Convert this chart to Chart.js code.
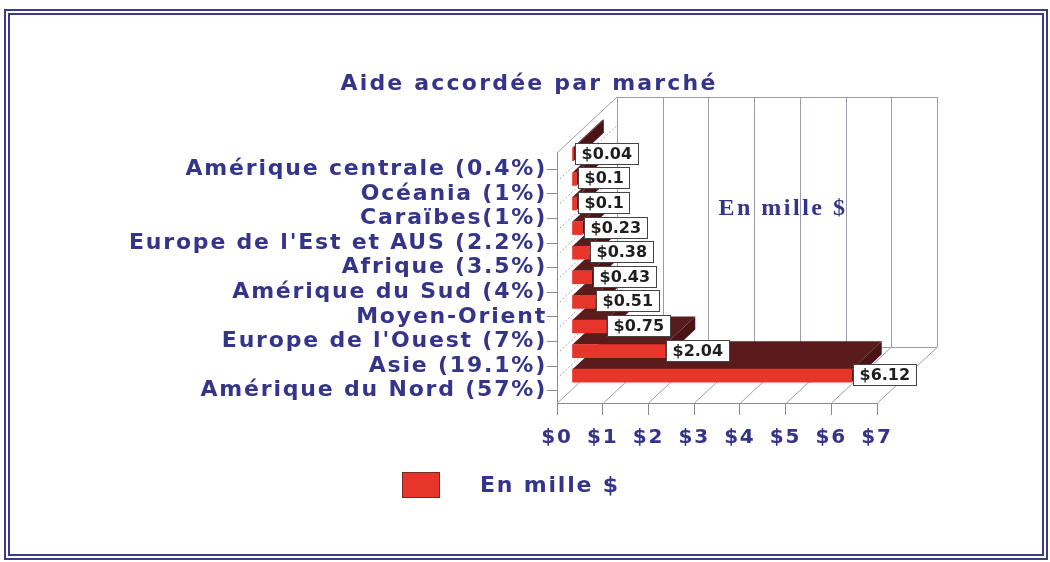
<!DOCTYPE html>
<html><head><meta charset="utf-8">
<script src="https://cdn.jsdelivr.net/npm/chart.js@4.4.0/dist/chart.umd.min.js"></script>
<style>
html,body{margin:0;padding:0;background:#fff;}
#wrap{position:relative;width:1050px;height:562px;overflow:hidden;}
#frame{position:absolute;left:4px;top:9px;width:1032px;height:539px;border:6px double #3c3c86;pointer-events:none;}
canvas{position:absolute;left:0;top:0;}
</style></head><body>
<div id="wrap"><canvas id="c" width="1050" height="562"></canvas><div id="frame"></div></div>
<script>
// ---- data ----
const categories = ['Amérique centrale (0.4%)', 'Océania (1%)', 'Caraïbes(1%)', "Europe de l'Est et AUS (2.2%)", 'Afrique (3.5%)', 'Amérique du Sud (4%)', 'Moyen-Orient', "Europe de l'Ouest (7%)", 'Asie (19.1%)', 'Amérique du Nord (57%)'];
const values = [0.04, 0.1, 0.1, 0.23, 0.38, 0.43, 0.51, 0.75, 2.04, 6.12];
const seriesName = 'En mille $';
const chartTitle = 'Aide accordée par marché';
const wallNote = 'En mille $';
const xMin = 0, xMax = 7, xStep = 1;

// ---- style ----
const BLUE = '#34348a';
const RED = '#e8352b';
const TOP = '#5a1b1d';
const SIDE = '#4a1416';
const DX = 60, DY = -56;   // box depth
const SX = 15, SY = -15;   // bar front offset
const BX = 30, BY = -28;   // bar depth
const EXTRA_TOP = 4;       // wall rises a little above first band

const plugin3d = {
  id: 'bar3d',
  beforeDraw(chart) { chart.ctx.letterSpacing = '1.8px'; },
  beforeDatasetsDraw(chart) {
    const { ctx, chartArea: a, scales: { x, y } } = chart;
    const top = a.top - EXTRA_TOP;
    ctx.save();
    ctx.letterSpacing = '0px';
    ctx.strokeStyle = '#9c9caa';
    ctx.lineWidth = 1;
    const r = x.getPixelForValue(xMax);
    ctx.beginPath();
    x.ticks.forEach(t => {
      const px = Math.round(x.getPixelForValue(t.value)) + 0.5;
      ctx.moveTo(px + DX, top + DY); ctx.lineTo(px + DX, a.bottom + DY);
      ctx.moveTo(px, a.bottom); ctx.lineTo(px + DX, a.bottom + DY);
    });
    ctx.moveTo(a.left + DX, Math.round(top + DY) + 0.5); ctx.lineTo(r + DX, Math.round(top + DY) + 0.5);
    ctx.moveTo(a.left + DX, Math.round(a.bottom + DY) + 0.5); ctx.lineTo(r + DX, Math.round(a.bottom + DY) + 0.5);
    ctx.moveTo(a.left, top); ctx.lineTo(a.left + DX, top + DY);
    ctx.stroke();
    // front-left edge above first band
    ctx.strokeStyle = '#8a8a96';
    ctx.beginPath();
    ctx.moveTo(Math.round(a.left) + 0.5, top); ctx.lineTo(Math.round(a.left) + 0.5, a.top + 1);
    ctx.stroke();
    ctx.setLineDash([1, 3]);
    ctx.strokeStyle = '#55557a';
    ctx.beginPath();
    for (let i = 1; i < categories.length; i++) {
      const yb = (y.getPixelForValue(i - 1) + y.getPixelForValue(i)) / 2;
      ctx.moveTo(a.left, yb); ctx.lineTo(a.left + DX, yb + DY);
    }
    ctx.stroke();
    ctx.setLineDash([]);
    // note on the back wall
    ctx.letterSpacing = '2.5px';
    ctx.font = 'bold 24px "Liberation Serif"';
    ctx.fillStyle = BLUE;
    ctx.textAlign = 'center';
    ctx.textBaseline = 'middle';
    ctx.fillText(wallNote, 783, 209);
    ctx.restore();
  },
  beforeDatasetDraw(chart, args) {
    const ctx = chart.ctx;
    const meta = args.meta;
    ctx.save();
    ctx.translate(SX, SY);
    for (let i = meta.data.length - 1; i >= 0; i--) {
      const el = meta.data[i];
      const p = el.getProps(['x', 'y', 'base', 'height'], true);
      const t = p.y - p.height / 2, b = p.y + p.height / 2;
      ctx.fillStyle = TOP;
      ctx.beginPath();
      ctx.moveTo(p.base, t); ctx.lineTo(p.x, t); ctx.lineTo(p.x + BX, t + BY); ctx.lineTo(p.base + BX, t + BY);
      ctx.closePath(); ctx.fill();
      ctx.fillStyle = SIDE;
      ctx.beginPath();
      ctx.moveTo(p.x, t); ctx.lineTo(p.x + BX, t + BY); ctx.lineTo(p.x + BX, b + BY); ctx.lineTo(p.x, b);
      ctx.closePath(); ctx.fill();
    }
    return true;
  },
  afterDatasetDraw(chart) { chart.ctx.restore(); },
  afterDatasetsDraw(chart) {
    const ctx = chart.ctx;
    const meta = chart.getDatasetMeta(0);
    ctx.save();
    ctx.letterSpacing = '0px';
    ctx.font = 'bold 16px "DejaVu Sans"';
    ctx.textBaseline = 'middle';
    ctx.textAlign = 'left';
    meta.data.forEach((el, i) => {
      const txt = '$' + values[i];
      const w = Math.round(ctx.measureText(txt).width + 12);
      const h = 21;
      const lx = Math.round(el.x + SX + 1);
      const ty = Math.round(el.y + SY - 1 - h / 2);
      ctx.fillStyle = '#fff';
      ctx.fillRect(lx, ty, w, h);
      ctx.strokeStyle = '#444';
      ctx.lineWidth = 1;
      ctx.strokeRect(lx + 0.5, ty + 0.5, w, h);
      ctx.fillStyle = '#1e1e1e';
      ctx.fillText(txt, lx + 6.5, ty + h / 2 + 1);
    });
    ctx.restore();
  },
  afterDraw(chart) {
    const ctx = chart.ctx;
    ctx.save();
    // title
    ctx.letterSpacing = '2.2px';
    ctx.font = 'bold 22px "DejaVu Sans"';
    ctx.fillStyle = BLUE;
    ctx.textAlign = 'center';
    ctx.textBaseline = 'middle';
    ctx.fillText(chartTitle, 529, 84);
    // legend
    const ds = chart.data.datasets[0];
    ctx.fillStyle = ds.backgroundColor;
    ctx.fillRect(402, 472, 37, 25);
    ctx.strokeStyle = '#7a2a22';
    ctx.lineWidth = 1;
    ctx.strokeRect(402.5, 472.5, 37, 25);
    ctx.letterSpacing = '1.8px';
    ctx.font = 'bold 22px "DejaVu Sans"';
    ctx.fillStyle = BLUE;
    ctx.textAlign = 'left';
    ctx.fillText(ds.label, 480, 486);
    ctx.restore();
  }
};

new Chart(document.getElementById('c'), {
  type: 'bar',
  data: {
    labels: categories,
    datasets: [{
      label: seriesName,
      data: values,
      backgroundColor: RED,
      borderWidth: 0,
      barThickness: 13,
      clip: false
    }]
  },
  options: {
    indexAxis: 'y',
    responsive: false,
    devicePixelRatio: 1,
    animation: false,
    layout: { padding: { left: 0, top: 157, right: 173, bottom: 99 } },
    plugins: { legend: { display: false }, title: { display: false }, tooltip: { enabled: false } },
    scales: {
      x: {
        min: xMin, max: xMax,
        afterFit(s) { s.height = 60; },
        ticks: { stepSize: xStep, callback: v => '$' + v, color: BLUE, padding: 11, maxRotation: 0, autoSkip: false,
          font: { family: 'DejaVu Sans', size: 20, weight: 'bold' } },
        grid: { drawOnChartArea: false, drawTicks: true, tickLength: 12, color: '#8a8a96' },
        border: { display: true, color: '#8a8a96' }
      },
      y: {
        afterFit(s) { s.width = 557; },
        ticks: { color: BLUE, padding: 0, autoSkip: false, font: { family: 'DejaVu Sans', size: 22, weight: 'bold' } },
        grid: { drawOnChartArea: false, drawTicks: true, tickLength: 10, offset: false, color: '#8a8a96' },
        border: { display: true, color: '#8a8a96' }
      }
    }
  },
  plugins: [plugin3d]
});
</script>
</body></html>
